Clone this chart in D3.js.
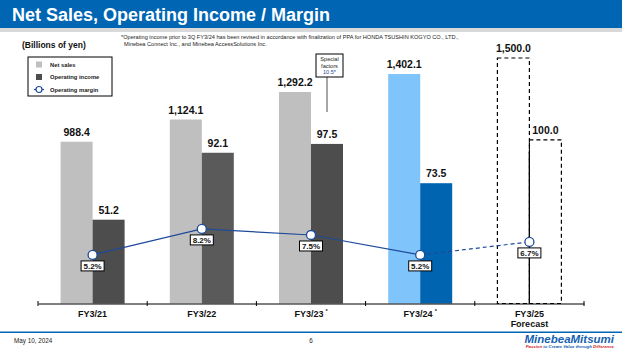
<!DOCTYPE html>
<html>
<head>
<meta charset="utf-8">
<script src="https://cdn.jsdelivr.net/npm/d3@7"></script>
<style>
  body { margin: 0; background: #fff; }
  svg { display: block; font-family: "Liberation Sans", Arial, sans-serif; }
</style>
</head>
<body>
<div id="chart"></div>
<script>
// data
const categories = ["FY3/21", "FY3/22", "FY3/23", "FY3/24", "FY3/25"];
const starred = [false, false, true, true, false];
const netSales = [988.4, 1124.1, 1292.2, 1402.1, 1500.0];
const opIncome = [51.2, 92.1, 97.5, 73.5, 100.0];
const opMargin = [5.2, 8.2, 7.5, 5.2, 6.7];
const salesLabels = ["988.4", "1,124.1", "1,292.2", "1,402.1", "1,500.0"];
const opLabels = ["51.2", "92.1", "97.5", "73.5", "100.0"];
const marginLabels = ["5.2%", "8.2%", "7.5%", "5.2%", "6.7%"];

const width = 622;
const height = 350;
const baseY = 303.5;
const blue = "#0066b3";
const navy = "#1f4a9a";

const svg = d3
  .select("#chart")
  .append("svg")
  .attr("width", width)
  .attr("height", height);

// header
svg.append("rect").attr("width", width).attr("height", 28).attr("fill", blue);
svg.append("rect").attr("y", 28).attr("width", width).attr("height", 4).attr("fill", "#d9d9d9");
svg
  .append("text")
  .attr("x", 12)
  .attr("y", 21)
  .attr("fill", "#fff")
  .attr("font-size", 18)
  .attr("font-weight", "bold")
  .text("Net Sales, Operating Income / Margin");

// footnote
const note = svg
  .append("text")
  .attr("font-size", 5.6)
  .attr("fill", "#222");
note
  .append("tspan")
  .attr("x", 121)
  .attr("y", 39)
  .text("*Operating income prior to 3Q FY3/24 has been revised in accordance with finalization of PPA for HONDA TSUSHIN KOGYO CO., LTD.,");
note
  .append("tspan")
  .attr("x", 124)
  .attr("y", 46)
  .text("Minebea Connect Inc., and Minebea AccessSolutions Inc.");

svg
  .append("text")
  .attr("x", 22)
  .attr("y", 48)
  .attr("font-size", 8.5)
  .attr("font-weight", "bold")
  .attr("fill", "#111")
  .text("(Billions of yen)");

// scales
const x = d3.scaleBand().domain(categories).range([38, 584]).padding(0);
const sub = d3.scaleBand().domain(["sales", "op"]).range([-32, 32]).padding(0);
const ySales = d3.scaleLinear().domain([0, 1500]).range([baseY, 58]);
const yOp = d3.scaleLinear().domain([0, 150]).range([baseY, 58]);
const yMargin = d3.scaleLinear().domain([0, 10]).range([300, 213.3]);
const cx = (c) => x(c) + x.bandwidth() / 2;

const rows = categories.map((c, i) => ({
  cat: c,
  i,
  sales: netSales[i],
  op: opIncome[i],
  margin: opMargin[i],
  forecast: i === categories.length - 1,
}));

const salesFill = (d) => (d.i === 3 ? "#7fc4fb" : "#bfbfbf");
const opFill = (d) => (d.i === 3 ? "#0064b0" : d.i === 1 ? "#5a5a5a" : "#4d4d4d");

// net sales bars
svg
  .append("g")
  .selectAll("rect")
  .data(rows)
  .join("rect")
  .attr("x", (d) => cx(d.cat) + sub("sales"))
  .attr("y", (d) => ySales(d.sales))
  .attr("width", sub.bandwidth())
  .attr("height", (d) => baseY - ySales(d.sales))
  .attr("fill", (d) => (d.forecast ? "none" : salesFill(d)))
  .attr("stroke", (d) => (d.forecast ? "#000" : "none"))
  .attr("stroke-width", 1.2)
  .attr("stroke-dasharray", (d) => (d.forecast ? "4,3" : null));

// operating income bars
svg
  .append("g")
  .selectAll("rect")
  .data(rows)
  .join("rect")
  .attr("x", (d) => cx(d.cat) + sub("op"))
  .attr("y", (d) => yOp(d.op))
  .attr("width", sub.bandwidth())
  .attr("height", (d) => baseY - yOp(d.op))
  .attr("fill", (d) => (d.forecast ? "none" : opFill(d)))
  .attr("stroke", (d) => (d.forecast ? "#000" : "none"))
  .attr("stroke-width", 1.2)
  .attr("stroke-dasharray", (d) => (d.forecast ? "4,3" : null));

// shared edge of the forecast boxes
const fc = rows[rows.length - 1];
svg
  .append("line")
  .attr("x1", cx(fc.cat))
  .attr("x2", cx(fc.cat))
  .attr("y1", yOp(fc.op) + 12)
  .attr("y2", baseY)
  .attr("stroke", "#000")
  .attr("stroke-width", 1.2);

// value labels
svg
  .append("g")
  .selectAll("text")
  .data(rows)
  .join("text")
  .attr("x", (d) => cx(d.cat) + sub("sales") + sub.bandwidth() / 2)
  .attr("y", (d) => ySales(d.sales) - 6)
  .attr("text-anchor", "middle")
  .attr("font-size", 10.5)
  .attr("font-weight", "bold")
  .attr("fill", "#111")
  .text((d) => salesLabels[d.i]);

svg
  .append("g")
  .selectAll("text")
  .data(rows)
  .join("text")
  .attr("x", (d) => cx(d.cat) + sub("op") + sub.bandwidth() / 2)
  .attr("y", (d) => yOp(d.op) - 6)
  .attr("text-anchor", "middle")
  .attr("font-size", 10.5)
  .attr("font-weight", "bold")
  .attr("fill", "#111")
  .text((d) => opLabels[d.i]);

// special factors callout on FY3/23
const sfX = cx("FY3/23") + sub("op") + sub.bandwidth() / 2;
svg
  .append("line")
  .attr("x1", sfX)
  .attr("x2", sfX)
  .attr("y1", 77)
  .attr("y2", 112)
  .attr("stroke", "#a6a6a6")
  .attr("stroke-width", 2);
svg
  .append("rect")
  .attr("x", sfX - 11)
  .attr("y", 54)
  .attr("width", 27)
  .attr("height", 23)
  .attr("fill", "#fff")
  .attr("stroke", "#000")
  .attr("stroke-width", 1);
const sf = svg
  .append("text")
  .attr("text-anchor", "middle")
  .attr("font-size", 5.6)
  .attr("fill", "#222");
["Special", "factors", "10.5*"].forEach((t, k) => {
  sf.append("tspan")
    .attr("x", sfX + 2.5)
    .attr("y", 61 + k * 6.5)
    .attr("fill", k === 2 ? "#1f4a9a" : "#222")
    .text(t);
});

// margin line
const pts = rows.map((d) => [cx(d.cat), yMargin(d.margin)]);
svg
  .append("path")
  .attr("d", d3.line()(pts.slice(0, 4)))
  .attr("fill", "none")
  .attr("stroke", navy)
  .attr("stroke-width", 1.2);
svg
  .append("path")
  .attr("d", d3.line()(pts.slice(3)))
  .attr("fill", "none")
  .attr("stroke", navy)
  .attr("stroke-width", 1.2)
  .attr("stroke-dasharray", "4,3");

svg
  .append("g")
  .selectAll("circle")
  .data(rows)
  .join("circle")
  .attr("cx", (d) => cx(d.cat))
  .attr("cy", (d) => yMargin(d.margin))
  .attr("r", 4.5)
  .attr("fill", "#fff")
  .attr("stroke", navy)
  .attr("stroke-width", 1.3);

const mlab = svg.append("g").selectAll("g").data(rows).join("g")
  .attr("transform", (d) => `translate(${cx(d.cat)},${yMargin(d.margin) + 6})`);
mlab
  .append("rect")
  .attr("x", -11.5)
  .attr("y", 0)
  .attr("width", 23)
  .attr("height", 10)
  .attr("fill", "#fff")
  .attr("stroke", "#000")
  .attr("stroke-width", 1);
mlab
  .append("text")
  .attr("y", 8)
  .attr("text-anchor", "middle")
  .attr("font-size", 8)
  .attr("font-weight", "bold")
  .attr("fill", "#111")
  .text((d) => marginLabels[d.i]);

// category axis
const axis = svg
  .append("g")
  .attr("transform", `translate(0,${baseY})`)
  .call(
    d3.axisBottom(x).tickSize(0).tickPadding(8).tickFormat(() => "")
  );
axis.select(".domain").attr("stroke", "#000").attr("stroke-width", 1);
axis
  .append("g")
  .selectAll("line")
  .data(d3.range(categories.length + 1))
  .join("line")
  .attr("x1", (k) => 38 + k * x.bandwidth())
  .attr("x2", (k) => 38 + k * x.bandwidth())
  .attr("y1", -2.5)
  .attr("y2", 2.5)
  .attr("stroke", "#000");

const catText = svg
  .append("g")
  .selectAll("text")
  .data(rows)
  .join("text")
  .attr("x", (d) => cx(d.cat))
  .attr("y", 317)
  .attr("text-anchor", "middle")
  .attr("font-size", 9)
  .attr("font-weight", "bold")
  .attr("fill", "#111");
catText.append("tspan").text((d) => d.cat);
catText
  .filter((d) => starred[d.i])
  .append("tspan")
  .attr("dx", 2)
  .attr("dy", -4)
  .attr("font-size", 5.5)
  .text("*");
svg
  .append("text")
  .attr("x", cx(fc.cat))
  .attr("y", 326.5)
  .attr("text-anchor", "middle")
  .attr("font-size", 9)
  .attr("font-weight", "bold")
  .attr("fill", "#111")
  .text("Forecast");

// legend
const lg = svg.append("g").attr("transform", "translate(28,57)");
lg.append("rect")
  .attr("width", 84)
  .attr("height", 39)
  .attr("fill", "#fff")
  .attr("stroke", "#000")
  .attr("stroke-width", 1);
const legendItems = ["Net sales", "Operating income", "Operating margin"];
legendItems.forEach((t, k) => {
  const ly = 7.5 + k * 12.5;
  if (k < 2) {
    lg.append("rect")
      .attr("x", 8)
      .attr("y", ly - 3)
      .attr("width", 6)
      .attr("height", 6)
      .attr("fill", k === 0 ? "#bfbfbf" : "#4d4d4d");
  } else {
    lg.append("line")
      .attr("x1", 6).attr("x2", 16).attr("y1", ly).attr("y2", ly)
      .attr("stroke", navy).attr("stroke-width", 1.2);
    lg.append("circle")
      .attr("cx", 11).attr("cy", ly).attr("r", 3)
      .attr("fill", "#fff").attr("stroke", navy).attr("stroke-width", 1.2);
  }
  lg.append("text")
    .attr("x", 22)
    .attr("y", ly + 2)
    .attr("font-size", 5.8)
    .attr("font-weight", "bold")
    .attr("fill", "#222")
    .text(t);
});

// footer
svg.append("rect").attr("y", 331.5).attr("width", width).attr("height", 1.5).attr("fill", blue);
svg
  .append("text")
  .attr("x", 14)
  .attr("y", 343)
  .attr("font-size", 6.3)
  .attr("fill", "#222")
  .text("May 10, 2024");
svg
  .append("text")
  .attr("x", 311)
  .attr("y", 343)
  .attr("text-anchor", "middle")
  .attr("font-size", 6.3)
  .attr("fill", "#222")
  .text("6");
svg
  .append("text")
  .attr("x", 614)
  .attr("y", 342.5)
  .attr("text-anchor", "end")
  .attr("font-size", 11.5)
  .attr("font-weight", "bold")
  .attr("font-style", "italic")
  .attr("fill", "#1560b0")
  .text("MinebeaMitsumi");
const tag = svg
  .append("text")
  .attr("x", 614)
  .attr("y", 347.5)
  .attr("text-anchor", "end")
  .attr("font-size", 4.3)
  .attr("font-style", "italic")
  .attr("font-weight", "bold");
tag.append("tspan").attr("fill", "#d2232a").text("Passion ");
tag.append("tspan").attr("fill", "#1560b0").text("to Create Value through ");
tag.append("tspan").attr("fill", "#d2232a").text("Difference");
</script>
</body>
</html>
